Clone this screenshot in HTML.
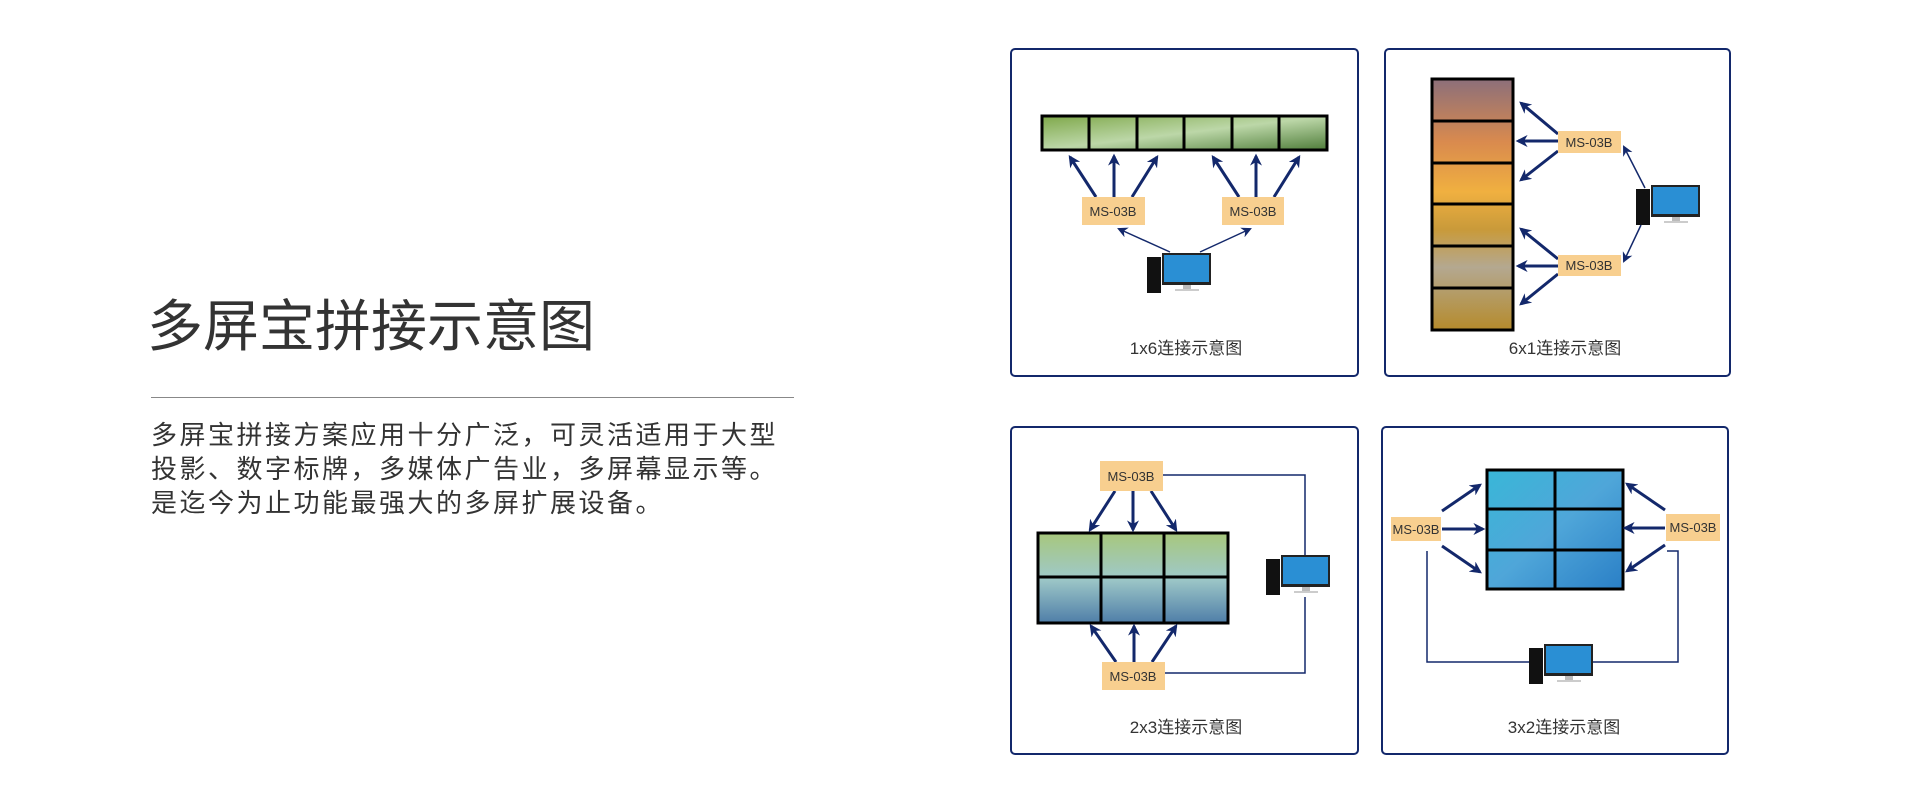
<!DOCTYPE html>
<html><head><meta charset="utf-8"><style>
html,body{margin:0;padding:0;background:#fff;}
body{width:1920px;height:800px;position:relative;overflow:hidden;font-family:"Liberation Sans","Noto Sans CJK SC",sans-serif;}
.t{position:absolute;left:147px;top:292px;font-size:56px;color:#333;line-height:70px;white-space:nowrap;}
.ln{position:absolute;left:151px;top:397px;width:643px;height:1px;background:#888;}
.p{position:absolute;left:151px;top:418px;font-size:26px;letter-spacing:2.5px;line-height:34px;color:#333;white-space:nowrap;}
svg{position:absolute;left:0;top:0;}
</style></head><body>
<div class="t">多屏宝拼接示意图</div>
<div class="ln"></div>
<div class="p">多屏宝拼接方案应用十分广泛，可灵活适用于大型<br>投影、数字标牌，多媒体广告业，多屏幕显示等。<br>是迄今为止功能最强大的多屏扩展设备。</div>
<svg width="1920" height="800" xmlns="http://www.w3.org/2000/svg">
<defs>
<marker id="a" viewBox="0 0 10 10" refX="8" refY="5" markerWidth="4" markerHeight="4" orient="auto"><path d="M0,0 L10,5 L0,10 L3,5z" fill="#13286b"/></marker>
<marker id="b" viewBox="0 0 10 10" refX="8" refY="5" markerWidth="7" markerHeight="7" orient="auto"><path d="M0,0 L10,5 L0,10 L3,5z" fill="#13286b"/></marker>
<linearGradient id="g1" x1="0" y1="0" x2="1" y2="1"><stop offset="0" stop-color="#7fa84a"/><stop offset="0.5" stop-color="#bcd7a8"/><stop offset="1" stop-color="#4f7d3a"/></linearGradient>
<linearGradient id="g2" x1="0" y1="0" x2="0" y2="1"><stop offset="0" stop-color="#8c6f7a"/><stop offset="0.25" stop-color="#d98a4e"/><stop offset="0.45" stop-color="#f0b040"/><stop offset="0.6" stop-color="#c99a3a"/><stop offset="0.75" stop-color="#b4a890"/><stop offset="1" stop-color="#b58b2c"/></linearGradient>
<linearGradient id="g3" x1="0" y1="0" x2="0" y2="1"><stop offset="0" stop-color="#a7c77c"/><stop offset="0.5" stop-color="#9fc9c8"/><stop offset="1" stop-color="#4f7ea8"/></linearGradient>
<linearGradient id="g4" x1="0" y1="0" x2="1" y2="1"><stop offset="0" stop-color="#39b7d8"/><stop offset="0.5" stop-color="#4fa6d9"/><stop offset="1" stop-color="#2a7fc6"/></linearGradient>
<g id="pc">
<rect x="0" y="4" width="14" height="36" fill="#111"/>
<rect x="15" y="0" width="49" height="32" fill="#222"/>
<rect x="17" y="2" width="45" height="27" fill="#2a8fd4"/>
<rect x="36" y="32" width="8" height="4" fill="#bbb"/>
<rect x="28" y="36" width="24" height="2" fill="#ccc"/>
</g>
</defs>
<g fill="none" stroke="#13286b" stroke-width="2">
<rect x="1011" y="49" width="347" height="327" rx="4"/>
<rect x="1385" y="49" width="345" height="327" rx="4"/>
<rect x="1011" y="427" width="347" height="327" rx="4"/>
<rect x="1382" y="427" width="346" height="327" rx="4"/>
</g>
<!-- box1 -->
<rect x="1042" y="116" width="285" height="34" fill="url(#g1)" stroke="#000" stroke-width="3"/>
<g stroke="#000" stroke-width="3"><line x1="1089" y1="116" x2="1089" y2="150"/><line x1="1137" y1="116" x2="1137" y2="150"/><line x1="1184" y1="116" x2="1184" y2="150"/><line x1="1232" y1="116" x2="1232" y2="150"/><line x1="1279" y1="116" x2="1279" y2="150"/></g>
<g stroke="#13286b" stroke-width="3" marker-end="url(#a)">
<line x1="1096" y1="197" x2="1070" y2="157"/><line x1="1114" y1="197" x2="1114" y2="156"/><line x1="1132" y1="197" x2="1157" y2="157"/>
<line x1="1239" y1="197" x2="1213" y2="157"/><line x1="1256" y1="197" x2="1256" y2="156"/><line x1="1274" y1="197" x2="1299" y2="157"/>
</g>
<g stroke="#13286b" stroke-width="1.5" marker-end="url(#b)"><line x1="1170" y1="252" x2="1119" y2="229"/><line x1="1200" y1="252" x2="1250" y2="229"/></g>
<rect x="1082" y="197" width="63" height="28" fill="#f8cf8f"/><rect x="1222" y="197" width="62" height="28" fill="#f8cf8f"/>
<use href="#pc" x="1147" y="253"/>
<!-- box2 -->
<g transform="translate(-8,0)">
<rect x="1440" y="79" width="81" height="251" fill="url(#g2)" stroke="#000" stroke-width="3"/>
<g stroke="#000" stroke-width="3"><line x1="1440" y1="121" x2="1521" y2="121"/><line x1="1440" y1="163" x2="1521" y2="163"/><line x1="1440" y1="204" x2="1521" y2="204"/><line x1="1440" y1="246" x2="1521" y2="246"/><line x1="1440" y1="288" x2="1521" y2="288"/></g>
<g stroke="#13286b" stroke-width="3" marker-end="url(#a)">
<line x1="1566" y1="134" x2="1529" y2="103"/><line x1="1566" y1="141" x2="1526" y2="141"/><line x1="1566" y1="151" x2="1529" y2="180"/>
<line x1="1566" y1="259" x2="1529" y2="229"/><line x1="1566" y1="266" x2="1526" y2="266"/><line x1="1566" y1="274" x2="1529" y2="304"/>
</g>
<g stroke="#13286b" stroke-width="1.5" marker-end="url(#b)"><line x1="1653" y1="188" x2="1632" y2="147"/><line x1="1649" y1="225" x2="1632" y2="261"/></g>
<rect x="1566" y="131" width="63" height="22" fill="#f8cf8f"/><rect x="1566" y="255" width="63" height="21" fill="#f8cf8f"/>
<use href="#pc" x="1644" y="185"/>
<g font-family="Liberation Sans, sans-serif" font-size="13" fill="#333" text-anchor="middle">
<text x="1597" y="147">MS-03B</text><text x="1597" y="270">MS-03B</text></g>
</g>
<!-- box3 -->
<g fill="none" stroke="#13286b" stroke-width="1.5"><polyline points="1163,475 1305,475 1305,556"/><polyline points="1165,673 1305,673 1305,597"/></g>
<rect x="1038" y="533" width="190" height="90" fill="url(#g3)" stroke="#000" stroke-width="3"/>
<g stroke="#000" stroke-width="3"><line x1="1101" y1="533" x2="1101" y2="623"/><line x1="1164" y1="533" x2="1164" y2="623"/><line x1="1038" y1="577" x2="1228" y2="577"/></g>
<g stroke="#13286b" stroke-width="3" marker-end="url(#a)">
<line x1="1115" y1="491" x2="1090" y2="530"/><line x1="1133" y1="491" x2="1133" y2="530"/><line x1="1151" y1="491" x2="1176" y2="530"/>
<line x1="1116" y1="662" x2="1091" y2="626"/><line x1="1134" y1="662" x2="1134" y2="626"/><line x1="1152" y1="662" x2="1176" y2="626"/>
</g>
<rect x="1100" y="461" width="63" height="30" fill="#f8cf8f"/><rect x="1102" y="662" width="63" height="28" fill="#f8cf8f"/>
<use href="#pc" x="1266" y="555"/>
<!-- box4 -->
<g transform="translate(-9,0)">
<g fill="none" stroke="#13286b" stroke-width="1.5"><polyline points="1436,551 1436,662 1539,662"/><polyline points="1676,551 1687,551 1687,662 1602,662"/></g>
<rect x="1496" y="470" width="136" height="119" fill="url(#g4)" stroke="#000" stroke-width="3"/>
<g stroke="#000" stroke-width="3"><line x1="1564" y1="470" x2="1564" y2="589"/><line x1="1496" y1="509" x2="1632" y2="509"/><line x1="1496" y1="550" x2="1632" y2="550"/></g>
<g stroke="#13286b" stroke-width="3" marker-end="url(#a)">
<line x1="1451" y1="511" x2="1489" y2="485"/><line x1="1451" y1="529" x2="1492" y2="529"/><line x1="1451" y1="546" x2="1489" y2="572"/>
<line x1="1674" y1="510" x2="1636" y2="484"/><line x1="1674" y1="528" x2="1634" y2="528"/><line x1="1674" y1="545" x2="1636" y2="571"/>
</g>
<rect x="1400" y="517" width="50" height="24" fill="#f8cf8f"/><rect x="1675" y="514" width="54" height="27" fill="#f8cf8f"/>
<use href="#pc" x="1538" y="644"/>
<g font-family="Liberation Sans, sans-serif" font-size="13" fill="#333" text-anchor="middle">
<text x="1425" y="534">MS-03B</text><text x="1702" y="532">MS-03B</text></g>
</g>
<g font-family="Liberation Sans, sans-serif" font-size="13" fill="#333" text-anchor="middle">
<text x="1113" y="216">MS-03B</text><text x="1253" y="216">MS-03B</text>
<text x="1131" y="481">MS-03B</text><text x="1133" y="681">MS-03B</text>
</g>
<g font-family="Liberation Sans, Noto Sans CJK SC, sans-serif" font-size="17" fill="#333" text-anchor="middle">
<text x="1186" y="354">1x6连接示意图</text><text x="1565" y="354">6x1连接示意图</text>
<text x="1186" y="733">2x3连接示意图</text><text x="1564" y="733">3x2连接示意图</text>
</g>
</svg>
</body></html>
